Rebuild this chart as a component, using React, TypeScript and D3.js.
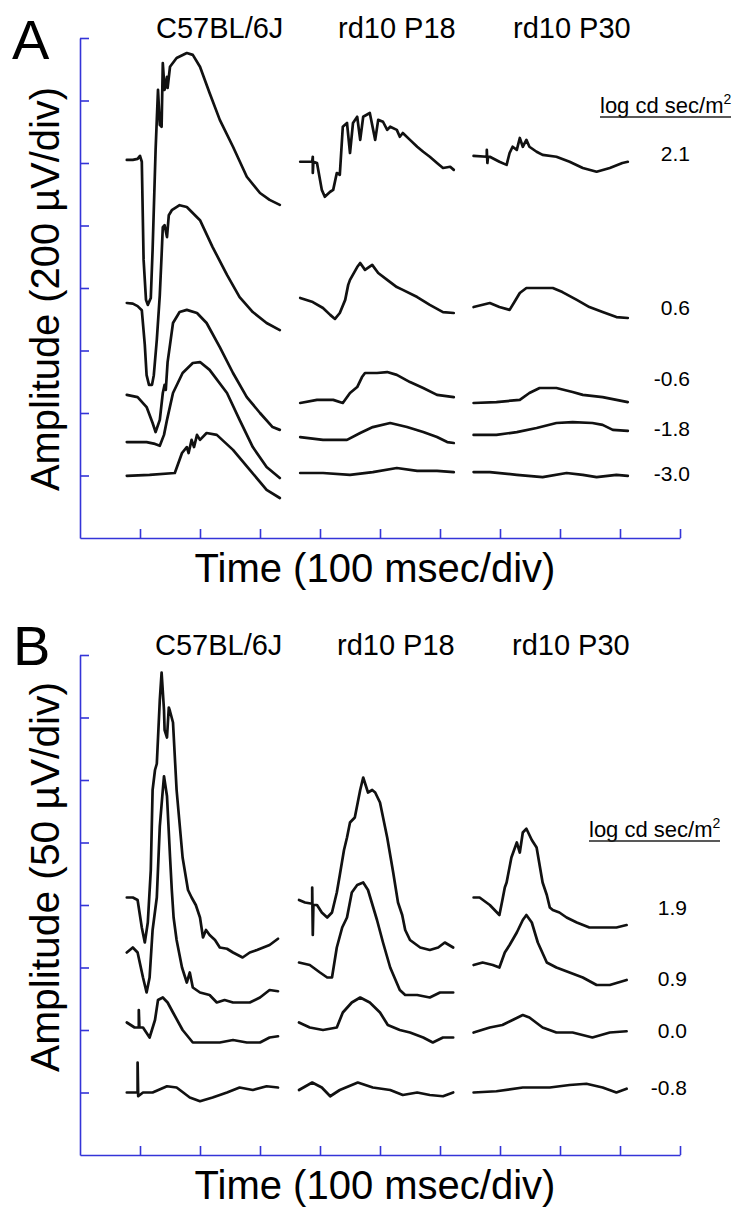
import React, { useEffect, useRef } from "react";
import * as d3 from "d3";

const W = 754;
const H = 1222;
const font = "'Liberation Sans', Arial, Helvetica, sans-serif";
const axisColor = "#3434d8";

// groups and where each sweep starts on the shared time axis (ms)
const groups = ["C57BL/6J", "rd10 P18", "rd10 P30"];
const groupStart = [78, 365, 656];
const timeTicks = [100, 200, 300, 400, 500, 600, 700, 800, 900, 1000];

// panel A: flash intensities (log cd sec/m2), row baselines and label levels (uV)
const intensitiesA = ["2.1", "0.6", "-0.6", "-1.8", "-3.0"];
const offsetsA = [1210, 750, 440, 315, 205];
const labelLevelsA = [1229, 739, 512, 352, 208];
const ampTicksA = [200, 400, 600, 800, 1000, 1200, 1400, 1600];

// panel B
const intensitiesB = ["1.9", "0.9", "0.0", "-0.8"];
const offsetsB = [205, 155, 104, 52];
const labelLevelsB = [198, 141, 100, 54];
const ampTicksB = [50, 100, 150, 200, 250, 300, 350, 400];

type Pt = [number, number]; // [ms from sweep start, uV from row baseline]

const A_C57: Pt[][] = [
  [[0,0],[10,0],[18,3],[22,13],[25,-6],[28,-320],[32,-448],[35,-464],[40,-442],[43,-288],[48,32],[52,224],[55,112],[58,106],[60,310],[63,224],[67,266],[68,230],[72,298],[83,326],[100,342],[110,336],[122,298],[138,214],[155,128],[177,42],[200,-54],[222,-106],[238,-128],[255,-144]],
  [[0,2],[10,0],[18,-8],[25,-21],[30,-132],[33,-229],[37,-260],[42,-260],[45,-229],[50,-116],[55,27],[58,155],[60,245],[63,251],[67,213],[70,283],[75,299],[88,315],[100,309],[122,267],[143,181],[167,92],[188,21],[210,-27],[233,-62],[255,-85]],
  [[0,18],[18,11],[33,-21],[43,-72],[48,-101],[55,-62],[60,24],[63,50],[65,34],[68,123],[72,178],[77,248],[88,283],[100,290],[117,280],[133,248],[155,171],[177,88],[200,11],[222,-40],[243,-85],[255,-94]],
  [[0,-8],[33,-8],[47,-14],[55,-20],[62,15],[67,63],[77,149],[85,181],[93,213],[110,245],[122,248],[138,223],[167,149],[188,63],[210,-24],[233,-88],[255,-123]],
  [[0,-6],[38,-3],[80,3],[92,67],[100,86],[103,67],[108,109],[112,86],[117,125],[122,109],[133,131],[150,125],[177,77],[205,13],[233,-51],[255,-77]],
];

const A_P18: Pt[][] = [
  [[2,-6],[22,-6],[23,10],[23,-42],[24,-6],[30,-10],[38,-96],[43,-118],[52,-102],[57,-96],[63,-42],[68,-48],[73,106],[80,118],[85,22],[90,118],[97,138],[102,64],[107,138],[118,150],[127,64],[132,128],[140,122],[147,96],[152,106],[163,96],[168,74],[173,86],[185,64],[197,42],[207,26],[218,10],[230,-10],[240,-26],[252,-22],[258,-32]],
  [[2,18],[23,5],[40,-14],[52,-36],[60,-49],[68,-30],[77,12],[82,60],[85,76],[97,117],[102,130],[110,108],[122,124],[132,98],[147,76],[163,53],[173,44],[197,21],[218,-4],[240,-27],[258,-30]],
  [[2,-8],[30,2],[57,2],[73,-8],[85,24],[97,43],[105,75],[110,88],[130,88],[147,91],[163,82],[185,59],[207,40],[230,18],[258,11]],
  [[2,8],[40,-1],[80,-1],[102,21],[123,40],[152,53],[180,40],[207,24],[230,8],[247,-8],[258,-11]],
  [[2,3],[40,3],[85,-3],[123,6],[163,19],[197,10],[230,10],[258,6]],
];

const A_P30: Pt[][] = [
  [[0,13],[22,10],[22,32],[23,-10],[24,10],[27,10],[43,-6],[55,-16],[60,22],[65,42],[72,32],[77,70],[82,42],[88,64],[93,42],[105,26],[115,16],[138,10],[160,-6],[182,-26],[205,-38],[227,-26],[248,-10],[257,-6]],
  [[0,-11],[27,2],[43,-11],[60,-20],[68,5],[77,34],[88,50],[110,50],[132,50],[148,37],[172,12],[193,-11],[215,-27],[238,-43],[257,-46]],
  [[0,-8],[38,-5],[77,2],[93,24],[110,40],[138,40],[165,27],[182,18],[215,11],[257,-5]],
  [[0,15],[38,15],[72,24],[105,37],[138,53],[165,56],[198,53],[215,47],[232,31],[257,28]],
  [[0,6],[27,6],[72,-3],[115,-10],[155,3],[182,-3],[205,-10],[238,-3],[257,-6]],
];

const B_C57: Pt[][] = [
  [[0,1],[10,1],[18,-1],[25,-23],[30,-35],[35,-19],[40,23],[43,87],[47,103],[50,108],[55,159],[58,181],[62,151],[63,135],[67,129],[70,153],[72,150],[77,141],[83,87],[93,33],[102,7],[108,1],[115,-5],[122,-15],[127,-31],[132,-25],[138,-29],[147,-33],[155,-39],[167,-40],[177,-43],[193,-47],[205,-43],[217,-41],[238,-37],[252,-32]],
  [[0,7],[10,11],[18,7],[27,-13],[33,-25],[38,-13],[43,25],[50,51],[55,108],[60,137],[62,148],[67,132],[72,84],[75,57],[78,35],[83,17],[92,-5],[100,-17],[105,-9],[110,-21],[122,-25],[138,-27],[150,-33],[163,-31],[177,-33],[205,-33],[222,-29],[238,-23],[252,-24]],
  [[0,2],[13,-2],[20,-2],[20,12],[21,-2],[27,-2],[38,-10],[47,4],[52,20],[60,22],[68,18],[77,10],[93,-4],[110,-14],[133,-14],[155,-14],[177,-12],[200,-14],[222,-14],[238,-10],[252,-9]],
  [[0,-2],[18,-2],[18,22],[19,-5],[27,-2],[43,-2],[67,3],[83,2],[105,-6],[122,-9],[143,-6],[167,-2],[188,2],[210,0],[233,3],[252,2]],
];

const B_P18: Pt[][] = [
  [[0,-1],[10,-3],[22,-4],[22,9],[23,-29],[24,-5],[30,-5],[38,-11],[47,-15],[55,-11],[63,5],[68,19],[75,39],[80,49],[85,61],[93,65],[102,87],[107,97],[115,85],[122,87],[127,85],[135,77],[147,49],[157,21],[165,-3],[172,-13],[177,-25],[185,-33],[202,-39],[218,-41],[232,-39],[243,-35],[257,-39]],
  [[0,-1],[18,-3],[35,-9],[47,-13],[55,-13],[63,11],[72,27],[80,35],[88,55],[97,61],[107,63],[115,57],[130,33],[140,15],[152,-5],[168,-23],[177,-27],[197,-27],[218,-29],[235,-25],[257,-25]],
  [[0,2],[18,-2],[40,-4],[63,-2],[73,10],[88,18],[102,22],[118,18],[135,10],[148,0],[168,-4],[185,-6],[207,-10],[223,-14],[240,-10],[257,-10]],
  [[0,0],[22,6],[38,2],[52,-5],[68,0],[98,6],[123,2],[152,0],[173,-4],[197,-2],[218,-4],[240,-5],[257,-2]],
];

const B_P30: Pt[][] = [
  [[0,1],[10,1],[27,-5],[43,-13],[48,-1],[52,9],[55,13],[63,33],[72,45],[77,37],[82,53],[88,56],[97,47],[105,41],[115,13],[122,3],[127,-7],[132,-9],[143,-11],[155,-15],[172,-19],[193,-23],[215,-23],[238,-23],[255,-21]],
  [[0,-3],[15,-1],[32,-3],[43,-5],[52,7],[60,13],[72,23],[82,33],[88,37],[97,31],[107,15],[122,-1],[138,-5],[160,-9],[182,-13],[205,-19],[227,-19],[255,-15]],
  [[0,-6],[27,-2],[48,0],[65,4],[82,8],[93,6],[115,-2],[138,-6],[165,-6],[198,-10],[227,-6],[255,-5]],
  [[0,-2],[38,-1],[82,2],[127,2],[160,4],[188,5],[215,2],[238,-2],[255,1]],
];

type Panel = {
  letter: string;
  top: number;
  bottom: number;
  ampMax: number;
  ampTicks: number[];
  yLabel: string;
  yLabelCenter: number;
  yLabelLength: number;
  xLabelBaseline: number;
  letterX: number;
  letterBaseline: number;
  titleX: number[];
  titleBaseline: number;
  legendX: number;
  legendBaseline: number;
  levelX: number;
  intensities: string[];
  offsets: number[];
  labelLevels: number[];
  traces: Pt[][][];
};

function drawPanel(svg: d3.Selection<SVGSVGElement, unknown, null, undefined>, p: Panel) {
  const x = d3.scaleLinear().domain([0, 1000]).range([80, 680]);
  const y = d3.scaleLinear().domain([0, p.ampMax]).range([p.bottom, p.top]);

  // axes
  const yAxis = svg
    .append("g")
    .attr("transform", `translate(${x(0)},0)`)
    .call(d3.axisRight(y).tickValues(p.ampTicks).tickSize(9).tickSizeOuter(0).tickFormat(() => ""));
  const xAxis = svg
    .append("g")
    .attr("transform", `translate(0,${p.bottom})`)
    .call(d3.axisTop(x).tickValues(timeTicks).tickSize(9).tickSizeOuter(0).tickFormat(() => ""));
  [yAxis, xAxis].forEach((g) => {
    g.selectAll("path,line").attr("stroke", axisColor).attr("stroke-width", 1.6);
  });

  // traces
  p.traces.forEach((rows, gi) => {
    rows.forEach((pts, ri) => {
      const line = d3
        .line<Pt>()
        .x((d) => x(groupStart[gi] + d[0]))
        .y((d) => y(p.offsets[ri] + d[1]));
      svg
        .append("path")
        .attr("d", line(pts))
        .attr("fill", "none")
        .attr("stroke", "#111")
        .attr("stroke-width", 2.7)
        .attr("stroke-linejoin", "round")
        .attr("stroke-linecap", "round");
    });
  });

  // panel letter
  svg
    .append("text")
    .attr("x", p.letterX)
    .attr("y", p.letterBaseline)
    .attr("font-size", 56)
    .text(p.letter);

  // group titles
  groups.forEach((name, i) => {
    svg
      .append("text")
      .attr("x", p.titleX[i])
      .attr("y", p.titleBaseline)
      .attr("font-size", 29)
      .text(name);
  });

  // intensity legend
  const leg = svg
    .append("text")
    .attr("x", p.legendX)
    .attr("y", p.legendBaseline)
    .attr("font-size", 22);
  leg.append("tspan").text("log cd sec/m");
  leg.append("tspan").attr("font-size", 14).attr("dy", -9).text("2");
  svg
    .append("line")
    .attr("x1", p.legendX)
    .attr("x2", p.legendX + 131)
    .attr("y1", p.legendBaseline + 4)
    .attr("y2", p.legendBaseline + 4)
    .attr("stroke", "#222")
    .attr("stroke-width", 1.5);

  p.intensities.forEach((lab, i) => {
    svg
      .append("text")
      .attr("x", p.levelX)
      .attr("y", y(p.labelLevels[i]))
      .attr("dy", "0.36em")
      .attr("text-anchor", "end")
      .attr("font-size", 21)
      .text(lab);
  });

  // axis titles
  svg
    .append("text")
    .attr("transform", `translate(59,${p.yLabelCenter}) rotate(-90)`)
    .attr("text-anchor", "middle")
    .attr("font-size", 40)
    .attr("textLength", p.yLabelLength)
    .attr("lengthAdjust", "spacingAndGlyphs")
    .text(p.yLabel);
  svg
    .append("text")
    .attr("x", 375)
    .attr("y", p.xLabelBaseline)
    .attr("text-anchor", "middle")
    .attr("font-size", 40)
    .text("Time (100 msec/div)");
}

export default function App() {
  const ref = useRef<SVGSVGElement>(null);

  useEffect(() => {
    if (!ref.current) return;
    const svg = d3.select(ref.current);
    svg.selectAll("*").remove();
    svg.attr("font-family", font).attr("fill", "#000");

    drawPanel(svg, {
      letter: "A",
      top: 38,
      bottom: 538,
      ampMax: 1600,
      ampTicks: ampTicksA,
      yLabel: "Amplitude (200 \u00b5V/div)",
      yLabelCenter: 289,
      yLabelLength: 404,
      xLabelBaseline: 582,
      letterX: 12,
      letterBaseline: 59,
      titleX: [156, 338, 513],
      titleBaseline: 38,
      legendX: 600,
      legendBaseline: 113,
      levelX: 690,
      intensities: intensitiesA,
      offsets: offsetsA,
      labelLevels: labelLevelsA,
      traces: [A_C57, A_P18, A_P30],
    });

    drawPanel(svg, {
      letter: "B",
      top: 655,
      bottom: 1155,
      ampMax: 400,
      ampTicks: ampTicksB,
      yLabel: "Amplitude (50 \u00b5V/div)",
      yLabelCenter: 877,
      yLabelLength: 390,
      xLabelBaseline: 1199,
      letterX: 13,
      letterBaseline: 665,
      titleX: [155, 337, 512],
      titleBaseline: 655,
      legendX: 589,
      legendBaseline: 837,
      levelX: 687,
      intensities: intensitiesB,
      offsets: offsetsB,
      labelLevels: labelLevelsB,
      traces: [B_C57, B_P18, B_P30],
    });
  }, []);

  return (
    <svg
      ref={ref}
      width={W}
      height={H}
      style={{ position: "absolute", left: 0, top: 0, background: "#fff" }}
    />
  );
}
